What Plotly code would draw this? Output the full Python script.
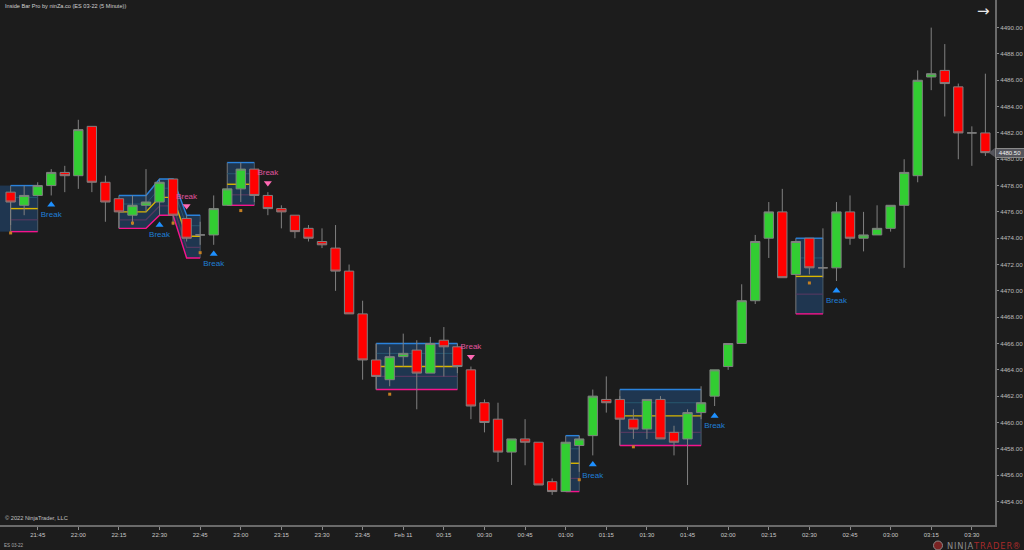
import plotly.graph_objects as go

bar_index = list(range(73))
opens = [4477.5,4476.5,4477.25,4478,4479,4478.75,4482.5,4478.25,4477,4475.75,4476.5,4476.75,4478.5,4475.5,4474.25,4474.25,4476.5,4477.75,4479.25,4477.25,4476.25,4475.75,4474.75,4473.75,4473.25,
         4471.5,4468.25,4464.75,4463.25,4465,4465.5,4463.75,4466.25,4465.75,4464,4461.5,4460.25,4457.75,4458.75,4458.5,4455.5,4454.75,4458.25,4459,4461.75,4461.75,4460.25,4459.5,4461.75,4459.25,
         4458.75,4460.75,4462,4464.25,4466,4469.25,4474,4476,4471.25,4474,4471.75,4471.75,4476,4474,4474.25,4474.75,4476.5,4478.75,4486.25,4486.75,4485.5,4482,4482]
highs = [4477.5,4478,4478.25,4479.25,4479.5,4483,4482.5,4478.75,4477,4477.25,4479.25,4478.5,4478.5,4475.75,4475.25,4477.25,4477.75,4479.75,4479.25,4477.5,4476.5,4475.75,4475,4474.75,4475,
         4472,4469.25,4466,4465.75,4466.75,4466.25,4466.5,4467.25,4466,4464.25,4461.75,4461.5,4458.75,4460.25,4458.5,4455.75,4458.5,4459,4462.5,4463.5,4462,4461,4461.75,4462,4459.75,
         4461,4462.75,4464,4466,4470.5,4474.25,4476.75,4477.75,4473.75,4474,4474.75,4476.75,4477.25,4476,4476.5,4476.5,4480,4486.75,4490,4488.75,4485.75,4482.5,4486.5]
lows = [4475,4475.75,4477.25,4477.25,4477.5,4477.75,4477.5,4475.25,4474.75,4475,4476,4475.75,4475,4473.75,4473.5,4473.5,4476.5,4476.75,4476.75,4475.75,4474.75,4474,4473.75,4473.25,4470,
        4468.25,4463.25,4462.5,4462.75,4464.25,4461,4463.75,4463.5,4463.75,4460.25,4459.25,4457,4455.25,4456.75,4455.25,4454.5,4454.75,4456.25,4457.5,4460.75,4458.25,4458.75,4458.75,4458.75,4457.5,
        4455.25,4460.25,4461.25,4464,4466,4469,4472.5,4471,4471.25,4471.25,4471,4470.75,4473.5,4473,4474.25,4474.5,4471.75,4478.25,4485.25,4483.25,4480,4479.5,4480.25]
closes = [4476.75,4477.25,4478,4479,4478.75,4482.25,4478.25,4476.75,4476,4476.5,4476.75,4478.25,4475.75,4474,4474.25,4476.25,4477.75,4479.25,4477.25,4476.25,4476,4474.5,4474,4473.5,4471.5,
          4468.25,4464.75,4463.5,4465,4465.25,4463.75,4466,4465.75,4464.25,4461.25,4460,4457.75,4458.75,4458.5,4455.25,4454.75,4458.5,4458.75,4462,4461.5,4460.25,4459.5,4461.75,4458.75,4458.5,
          4460.75,4461.5,4464,4466,4469.25,4473.75,4476,4471,4473.75,4471.75,4471.75,4476,4474,4474.25,4474.75,4476.5,4479,4486,4486.5,4485.75,4482,4482,4480.5]

zone_x      = [[-1,0],[0,2],[8,10,11,12,13,14],[16,18],[27,33],[41,42],[45,51],[58,60]]
zone_top    = [[4478,4478],[4478,4478],[4477.25,4477.25,4478.5,4478.5,4475.75,4475.75],[4479.75,4479.75],[4466,4466],[4459,4459],[4462.5,4462.5],[4474,4474]]
zone_upper  = [None,[4477.1,4477.1],[4476.6,4476.6,4477.8,4477.8,4474.95,4474.95],[4478.9,4478.9],[4465.25,4465.25],[4458,4458],[4461.5,4461.5],[4472.5,4472.5]]
zone_mid    = [None,[4476.25,4476.25],[4476,4476,4477.1,4477.1,4474.15,4474.15],[4478.1,4478.1],[4464.25,4464.25],[4456.9,4456.9],[4460.5,4460.5],[4471.1,4471.1]]
zone_lower  = [None,[4475.4,4475.4],[4475.4,4475.4,4476.45,4476.45,4473.3,4473.3],[4477.3,4477.3],[4463.5,4463.5],[4455.75,4455.75],[4459.25,4459.25],[4469.75,4469.75]]
zone_bottom = [[4474.5,4474.5],[4474.5,4474.5],[4474.75,4474.75,4475.75,4475.75,4472.5,4472.5],[4476.5,4476.5],[4462.5,4462.5],[4454.75,4454.75],[4458.25,4458.25],[4468.25,4468.25]]

dot_x = [0,9,12,14,17,28,42,46,59]
dot_y = [4474.4,4475.15,4475.15,4472.9,4476.1,4462.15,4455.65,4458.15,4470.6]

break_up_x = [3,11,15,43,52,61]
break_up_y = [4476.55,4475.0,4472.8,4456.8,4460.5,4470.0]
break_up_text_y = [4475.77,4474.24,4472.06,4455.95,4459.75,4469.24]
break_down_x = [13,19,34]
break_down_y = [4476.45,4478.2,4465.0]
break_down_text_y = [4477.16,4478.94,4465.7]
break_label = "Break"

y_ticks = [4454,4456,4458,4460,4462,4464,4466,4468,4470,4472,4474,4476,4478,4480,4482,4484,4486,4488,4490]
y_tick_labels = ["4454.00","4456.00","4458.00","4460.00","4462.00","4464.00","4466.00","4468.00","4470.00","4472.00","4474.00","4476.00","4478.00","4480.00","4482.00","4484.00","4486.00","4488.00","4490.00"]
x_ticks = [2,5,8,11,14,17,20,23,26,29,32,35,38,41,44,47,50,53,56,59,62,65,68,71]
x_tick_labels = ["21:45","22:00","22:15","22:30","22:45","23:00","23:15","23:30","23:45","Feb 11","00:15","00:30","00:45","01:00","01:15","01:30","01:45","02:00","02:15","02:30","02:45","03:00","03:15","03:30"]
last_price = 4480.5
last_price_label = "4480.50"

BG = "#1c1c1c"
FONT = "Liberation Sans"
PW, PH = 995.0, 525.0

fig = go.Figure()


def path(xs, ys, close=False):
    d = "M" + " L".join(f"{a},{b}" for a, b in zip(xs, ys))
    return d + (" Z" if close else "")


def data_shape(d, **style):
    return dict(type="path", xref="x", yref="y", layer="below", path=d, **style)


zone_shapes = []
LINE_STYLES = [(zone_upper, "#27566f", 1.0), (zone_mid, "#d9b600", 1.4), (zone_lower, "#52395f", 1.2),
               (zone_top, "#2a82dc", 1.4), (zone_bottom, "#f5148c", 1.4)]
for k, xs in enumerate(zone_x):
    zone_shapes.append(data_shape(path(xs + xs[::-1], zone_top[k] + zone_bottom[k][::-1], True),
                                  fillcolor="#1f3650", line=dict(width=0)))
    if zone_mid[k] is None:
        continue
    zone_shapes.append(data_shape(path([xs[0], xs[0]], [zone_top[k][0], zone_bottom[k][0]]), line=dict(color="#787878", width=1)))
    zone_shapes.append(data_shape(path([xs[-1], xs[-1]], [zone_top[k][-1], zone_bottom[k][-1]]), line=dict(color="#4a5a68", width=1)))
    for series, color, width in LINE_STYLES:
        zone_shapes.append(data_shape(path(xs, series[k]), line=dict(color=color, width=width)))

fig.add_trace(go.Candlestick(
    x=bar_index, open=opens, high=highs, low=lows, close=closes, whiskerwidth=0,
    increasing=dict(line=dict(color="#808080", width=1), fillcolor="#32cd32"),
    decreasing=dict(line=dict(color="#808080", width=1), fillcolor="#ff0000"),
    hoverinfo="skip"))

fig.add_trace(go.Scatter(x=dot_x, y=dot_y, mode="markers",
                         marker=dict(symbol="square", size=3, color="#c47f22"), hoverinfo="skip"))
fig.add_trace(go.Scatter(x=break_up_x, y=break_up_y, mode="markers",
                         marker=dict(symbol="triangle-up", size=7, color="#1e90ff"), hoverinfo="skip"))
fig.add_trace(go.Scatter(x=break_up_x, y=break_up_text_y, mode="text", text=[break_label]*len(break_up_x),
                         textposition="middle center", textfont=dict(color="#1f7fd6", size=8, family=FONT), hoverinfo="skip"))
fig.add_trace(go.Scatter(x=break_down_x, y=break_down_y, mode="markers",
                         marker=dict(symbol="triangle-down", size=7, color="#ff69b4"), hoverinfo="skip"))
fig.add_trace(go.Scatter(x=break_down_x, y=break_down_text_y, mode="text", text=[break_label]*len(break_down_x),
                         textposition="middle center", textfont=dict(color="#e0559f", size=8, family=FONT), hoverinfo="skip"))
fig.add_trace(go.Scatter(x=[72.55], y=[last_price], mode="markers", cliponaxis=False,
                         marker=dict(symbol="triangle-left", size=8, color="#55555c"), hoverinfo="skip"))


def px(x, y):
    return dict(xref="paper", yref="paper", x=x / PW, y=1 - y / PH, showarrow=False)


annotations = [
    dict(text="Inside Bar Pro by ninZa.co (ES 03-22 (5 Minute))", xanchor="left", yanchor="middle",
         font=dict(size=5.6, color="#d0d0d0", family=FONT), **px(3, 5.5)),
    dict(text="© 2022 NinjaTrader, LLC", xanchor="left", yanchor="middle",
         font=dict(size=5.7, color="#c0c0c0", family=FONT), **px(2.5, 518)),
    dict(text="ES 03-22", xanchor="left", yanchor="middle",
         font=dict(size=4.6, color="#a8a8a8", family=FONT), **px(2, 545)),
    dict(text="→", xanchor="center", yanchor="middle",
         font=dict(size=15, color="#e8e8e8", family="DejaVu Sans"), **px(983, 10.5)),
    dict(text=last_price_label, xanchor="center", yanchor="middle", bgcolor="#55555c", borderpad=1, width=26,
         bordercolor="#8a8a8a", borderwidth=1,
         font=dict(size=6, color="#f2f2f2", family=FONT), **px(1010, 152.7)),
    dict(text="<span style='color:#8d8d8d'>N\u200aI\u200aN\u200aJ\u200aA</span><span style='color:#a82a2a'>\u200aT\u200aR\u200aA\u200aD\u200aE\u200aR</span><span style='color:#a82a2a'>®</span>",
         xanchor="left", yanchor="middle", font=dict(size=8.3, family="DejaVu Sans"), **px(945, 545.5)),
]

fig.update_layout(
    width=1024, height=550, autosize=False,
    margin=dict(l=0, r=29, t=0, b=25, pad=0),
    paper_bgcolor=BG, plot_bgcolor=BG, showlegend=False,
    font=dict(family=FONT, color="#b8b8b8"),
    boxmode="overlay", boxgap=0.31, boxgroupgap=0,
    annotations=annotations,
    shapes=zone_shapes + [
        dict(type="circle", xref="paper", yref="paper", x0=933.5 / PW, x1=942.5 / PW,
             y0=1 - 550 / PH, y1=1 - 541 / PH, line=dict(color="#8a8a8a", width=1), fillcolor="#7a2323"),
    ],
    xaxis=dict(range=[-0.785, 72.71], tickmode="array", tickvals=x_ticks, ticktext=x_tick_labels,
               rangeslider=dict(visible=False), showgrid=False, zeroline=False, showline=True,
               linecolor="#6a6a6a", linewidth=2, ticks="outside", ticklen=3, tickcolor="#8a8a8a",
               tickfont=dict(size=6, color="#c8c8c8", family=FONT)),
    yaxis=dict(range=[4452.21, 4492.1], side="right", tickmode="array", tickvals=y_ticks, ticktext=y_tick_labels,
               showgrid=False, zeroline=False, showline=True, linecolor="#6a6a6a", linewidth=2,
               ticks="outside", ticklen=2, tickcolor="#8a8a8a",
               tickfont=dict(size=6.2, color="#bcbcbc", family=FONT)),
)

fig.write_html("out.html", config=dict(displayModeBar=False),
               post_script="document.body.style.margin='0';document.body.style.background='#1c1c1c';document.documentElement.style.overflow='hidden';")
